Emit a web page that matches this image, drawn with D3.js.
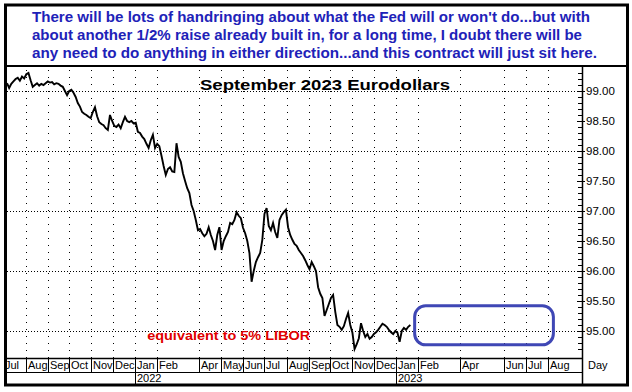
<!DOCTYPE html>
<html>
<head>
<meta charset="utf-8">
<script src="https://cdn.jsdelivr.net/npm/d3@7"></script>
<style>
  body { margin: 0; background: #fff; }
  text { font-family: "Liberation Sans", Arial, sans-serif; }
</style>
</head>
<body>
<div id="viz"></div>
<script>
var width = 632
var height = 392

// header note
var noteLines = [
    "There will be lots of handringing about what the Fed will or won't do...but with",
    "about another 1/2% raise already built in, for a long time, I doubt there will be",
    "any need to do anything in either direction...and this contract will just sit here."
]
var noteWidths = [558, 550, 565]
var chartTitle = "September 2023 Eurodollars"

// September 2023 Eurodollar futures, sampled every 3 days from 6 Jul 2021
var priceStart = "2021-07-06"
var stepDays = 3
var prices = [
    99.13, 99.05, 99.12, 99.16, 99.20, 99.22, 99.17, 99.24, 99.21, 99.28,
    99.30, 99.18, 99.07, 99.10, 99.13, 99.09, 99.12, 99.10, 99.13, 99.16,
    99.14, 99.15, 99.11, 99.13, 99.12, 99.09, 99.07, 99.00, 98.93, 99.00,
    99.02, 98.97, 98.90, 98.80, 98.74, 98.65, 98.62, 98.60, 98.57, 98.55,
    98.65, 98.73, 98.58, 98.48, 98.45, 98.43, 98.38, 98.35, 98.60, 98.50,
    98.42, 98.40, 98.44, 98.38, 98.48, 98.57, 98.50, 98.48, 98.50, 98.46,
    98.47, 98.32, 98.30, 98.24, 98.20, 98.12, 98.05, 98.18, 98.27, 98.05,
    98.12, 98.08, 97.92, 97.75, 97.60, 97.70, 97.73, 97.66, 97.65, 98.13,
    97.90, 97.82, 97.63, 97.50, 97.38, 97.30, 97.10, 97.00, 96.85, 96.68,
    96.70, 96.63, 96.58, 96.62, 96.73, 96.60, 96.50, 96.35, 96.60, 96.73,
    96.35, 96.50, 96.58, 96.65, 96.80, 96.78, 96.85, 96.98, 96.92, 96.88,
    96.72, 96.63, 96.50, 96.30, 95.82, 96.00, 96.15, 96.23, 96.30, 96.52,
    96.95, 97.05, 96.75, 96.68, 96.80, 96.65, 96.55, 96.85, 96.93, 96.98,
    97.02, 96.73, 96.60, 96.52, 96.45, 96.42, 96.35, 96.30, 96.25, 96.18,
    96.10, 96.03, 96.15, 96.08, 96.00, 95.73, 95.62, 95.55, 95.25, 95.35,
    95.45, 95.55, 95.60, 95.32, 95.10, 95.07, 95.02, 95.08, 95.20, 95.30,
    95.10, 94.97, 94.70, 94.78, 94.88, 95.13, 95.00, 94.90, 94.95, 94.87,
    94.90, 94.95, 94.98, 95.02, 95.07, 95.12, 95.10, 95.07, 95.02, 94.98,
    94.95, 95.00, 94.97, 94.82, 95.00, 95.05, 95.02, 95.07, 95.10
]

// axis labels
var priceTicks = [95.00, 95.50, 96.00, 96.50, 97.00, 97.50, 98.00, 98.50, 99.00]
var gridPrices = [95, 96, 97, 98, 99]
var monthStarts = [
    "2021-07-01", "2021-08-01", "2021-09-01", "2021-10-01", "2021-11-01", "2021-12-01",
    "2022-01-01", "2022-02-01", "2022-04-01", "2022-05-01", "2022-06-01", "2022-07-01",
    "2022-08-01", "2022-09-01", "2022-10-01", "2022-11-01", "2022-12-01",
    "2023-01-01", "2023-02-01", "2023-04-01", "2023-06-01", "2023-07-01", "2023-08-01"
]
var yearStarts = ["2022-01-01", "2023-01-01"]

// annotations
var boxDates = ["2023-01-27", "2023-08-09"]
var boxPrices = [95.42, 94.77]
var liborLabel = "equivalent to 5% LIBOR"
var liborDate = "2022-01-18"
var liborPrice = 94.93

var parse = d3.timeParse("%Y-%m-%d")
var fmtMonth = d3.timeFormat("%b")
var fmtYear = d3.timeFormat("%Y")

var plotLeft = 7, plotRight = 582, plotTop = 67, plotBottom = 358

var x = d3.scaleTime()
    .domain([parse("2021-07-06"), parse("2023-09-18")])
    .range([plotLeft, plotRight])
var y = d3.scaleLinear()
    .domain([95, 99])
    .range([331, 91])

var data = prices.map(function (v, i) {
    return { date: d3.timeDay.offset(parse(priceStart), i * stepDays), value: v }
})

var svg = d3.select("#viz")
    .append("svg")
    .attr("width", width)
    .attr("height", height)

svg.append("rect")
    .attr("width", width).attr("height", height)
    .attr("fill", "white")

var defs = svg.append("defs")
defs.append("clipPath").attr("id", "plotclip")
    .append("rect")
    .attr("x", plotLeft).attr("y", plotTop)
    .attr("width", plotRight - plotLeft).attr("height", plotBottom - plotTop)
defs.append("clipPath").attr("id", "axisclip")
    .append("rect")
    .attr("x", plotLeft).attr("y", plotBottom)
    .attr("width", plotRight - plotLeft).attr("height", 30)

// header note
svg.selectAll(".note")
    .data(noteLines)
    .enter()
    .append("text")
    .attr("class", "note")
    .attr("x", 32)
    .attr("y", function (d, i) { return 22 + i * 18 })
    .attr("textLength", function (d, i) { return noteWidths[i] })
    .attr("lengthAdjust", "spacingAndGlyphs")
    .attr("font-size", 14)
    .attr("font-weight", "bold")
    .attr("fill", "#1e22b8")
    .text(function (d) { return d })

// gridlines
var plot = svg.append("g").attr("clip-path", "url(#plotclip)")
plot.selectAll(".hgrid")
    .data(gridPrices)
    .enter()
    .append("line")
    .attr("x1", plotLeft).attr("x2", plotRight)
    .attr("y1", function (d) { return Math.round(y(d)) + 0.5 })
    .attr("y2", function (d) { return Math.round(y(d)) + 0.5 })
    .attr("stroke", "black")
    .attr("stroke-dasharray", "1,2")
plot.selectAll(".vgrid")
    .data(monthStarts.slice(1))
    .enter()
    .append("line")
    .attr("x1", function (d) { return Math.round(x(parse(d))) + 0.5 })
    .attr("x2", function (d) { return Math.round(x(parse(d))) + 0.5 })
    .attr("y1", plotTop + 3).attr("y2", plotBottom)
    .attr("stroke", "black")
    .attr("stroke-dasharray", "1,6")

// title
svg.append("text")
    .attr("x", 325).attr("y", 90)
    .attr("text-anchor", "middle")
    .attr("font-size", 15)
    .attr("font-weight", "bold")
    .attr("textLength", 250)
    .attr("lengthAdjust", "spacingAndGlyphs")
    .text(chartTitle)

// price line
plot.append("path")
    .datum(data)
    .attr("fill", "none")
    .attr("stroke", "black")
    .attr("stroke-width", 1.9)
    .attr("d", d3.line()
        .x(function (d) { return x(d.date) })
        .y(function (d) { return y(d.value) }))

// annotation box
svg.append("rect")
    .attr("x", x(parse(boxDates[0])))
    .attr("y", y(boxPrices[0]))
    .attr("width", x(parse(boxDates[1])) - x(parse(boxDates[0])))
    .attr("height", y(boxPrices[1]) - y(boxPrices[0]))
    .attr("rx", 11).attr("ry", 11)
    .attr("fill", "none")
    .attr("stroke", "#3f47b5")
    .attr("stroke-width", 3)

svg.append("text")
    .attr("x", x(parse(liborDate)))
    .attr("y", y(liborPrice) + 5)
    .attr("font-size", 12.5)
    .attr("font-weight", "bold")
    .attr("fill", "#e00000")
    .attr("textLength", 163)
    .attr("lengthAdjust", "spacingAndGlyphs")
    .text(liborLabel)

// right price axis
var axisG = svg.append("g")
axisG.append("line")
    .attr("x1", plotRight + 0.5).attr("x2", plotRight + 0.5)
    .attr("y1", 66).attr("y2", 385)
    .attr("stroke", "black").attr("stroke-width", 1.5)
var minor = d3.range(947, 994).map(function (d) { return d / 10 })
axisG.selectAll(".minor")
    .data(minor)
    .enter()
    .append("line")
    .attr("x1", plotRight - 4).attr("x2", plotRight)
    .attr("y1", function (d) { return Math.round(y(d)) + 0.5 })
    .attr("y2", function (d) { return Math.round(y(d)) + 0.5 })
    .attr("stroke", "black")
axisG.selectAll(".major")
    .data(priceTicks)
    .enter()
    .append("line")
    .attr("x1", plotRight - 5).attr("x2", plotRight + 3)
    .attr("y1", function (d) { return Math.round(y(d)) + 0.5 })
    .attr("y2", function (d) { return Math.round(y(d)) + 0.5 })
    .attr("stroke", "black")
axisG.selectAll(".plabel")
    .data(priceTicks)
    .enter()
    .append("text")
    .attr("x", plotRight + 4)
    .attr("y", function (d) { return y(d) + 4 })
    .attr("font-size", 11.5)
    .text(function (d) { return d.toFixed(2) })

// bottom date axis
svg.append("line")
    .attr("x1", plotLeft).attr("x2", plotRight)
    .attr("y1", plotBottom + 0.5).attr("y2", plotBottom + 0.5)
    .attr("stroke", "black").attr("stroke-width", 1.5)
svg.append("line")
    .attr("x1", plotLeft).attr("x2", plotRight)
    .attr("y1", 372.5).attr("y2", 372.5)
    .attr("stroke", "black")
var monthG = svg.append("g").attr("clip-path", "url(#axisclip)")
monthG.selectAll(".msep")
    .data(monthStarts)
    .enter()
    .append("line")
    .attr("x1", function (d) { return Math.round(x(parse(d))) + 0.5 })
    .attr("x2", function (d) { return Math.round(x(parse(d))) + 0.5 })
    .attr("y1", plotBottom).attr("y2", 372)
    .attr("stroke", "black")
monthG.selectAll(".mlabel")
    .data(monthStarts)
    .enter()
    .append("text")
    .attr("x", function (d) { return Math.round(x(parse(d))) + 2 })
    .attr("y", 369)
    .attr("font-size", 11)
    .text(function (d) { return fmtMonth(parse(d)) })
svg.selectAll(".ysep")
    .data(yearStarts)
    .enter()
    .append("line")
    .attr("x1", function (d) { return Math.round(x(parse(d))) + 0.5 })
    .attr("x2", function (d) { return Math.round(x(parse(d))) + 0.5 })
    .attr("y1", 372).attr("y2", 384)
    .attr("stroke", "black")
svg.selectAll(".ylabel")
    .data(yearStarts)
    .enter()
    .append("text")
    .attr("x", function (d) { return Math.round(x(parse(d))) + 2 })
    .attr("y", 382)
    .attr("font-size", 11)
    .text(function (d) { return fmtYear(parse(d)) })
svg.append("text")
    .attr("x", 588).attr("y", 369)
    .attr("font-size", 11)
    .text("Day")

// frame
svg.append("line")
    .attr("x1", 5).attr("x2", 628)
    .attr("y1", 66).attr("y2", 66)
    .attr("stroke", "black").attr("stroke-width", 2)
svg.append("rect")
    .attr("x", 5.5).attr("y", 5)
    .attr("width", 622).attr("height", 380)
    .attr("fill", "none")
    .attr("stroke", "black")
    .attr("stroke-width", 3)
</script>
</body>
</html>
